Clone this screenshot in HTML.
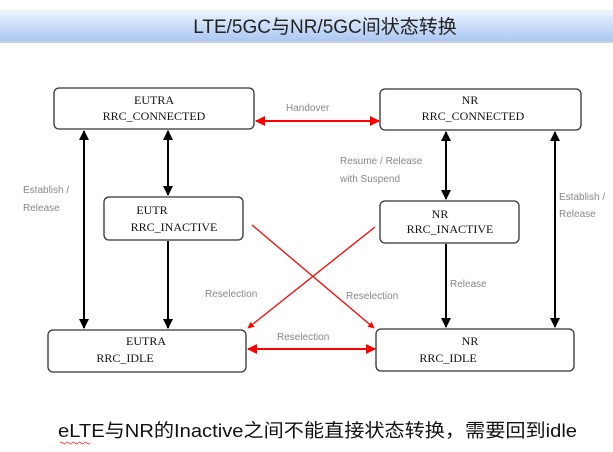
<!DOCTYPE html>
<html><head><meta charset="utf-8"><style>
html,body{margin:0;padding:0;background:#fff;width:613px;height:452px;overflow:hidden}
svg text{font-family:"Liberation Sans","Noto Sans CJK SC",sans-serif}
.m{font-family:"Liberation Serif","Noto Serif CJK SC",serif;font-size:12px;fill:#111}
.l{font-size:10px;fill:#888}
</style></head><body>
<svg width="613" height="452" viewBox="0 0 613 452" xmlns="http://www.w3.org/2000/svg">
<defs>
<linearGradient id="g" x1="0" y1="0" x2="0" y2="1">
<stop offset="0" stop-color="#eef4fd"/><stop offset="1" stop-color="#a9c6f2"/></linearGradient>
<marker id="ak" viewBox="0 0 10 10" refX="9" refY="5" markerWidth="5" markerHeight="5" orient="auto-start-reverse"><path d="M0,0L10,5L0,10z" fill="#000"/></marker>
<marker id="ar" viewBox="0 0 10 10" refX="9" refY="5" markerWidth="5" markerHeight="5" orient="auto-start-reverse"><path d="M0,0L10,5L0,10z" fill="#f00"/></marker>
</defs>
<rect x="0" y="10" width="613" height="32" fill="url(#g)"/>
<rect x="0" y="41" width="613" height="2" fill="#c8d0dc"/>
<text x="325" y="33" font-size="19" text-anchor="middle" fill="#222">LTE/5GC与NR/5GC间状态转换</text>
<g fill="#fff" stroke="#333" stroke-width="1.3">
<rect x="54" y="88" width="200" height="41" rx="5"/>
<rect x="380" y="89" width="201" height="41" rx="5"/>
<rect x="104" y="197" width="139" height="43" rx="5"/>
<rect x="380" y="201" width="139" height="42" rx="5"/>
<rect x="48" y="330" width="198" height="42" rx="5"/>
<rect x="376" y="329" width="198" height="42" rx="5"/>
</g>
<g text-anchor="middle" class="m">
<text class="m" x="154" y="104">EUTRA</text><text class="m" x="154" y="120">RRC_CONNECTED</text>
<text class="m" x="470" y="104">NR</text><text class="m" x="473" y="120">RRC_CONNECTED</text>
<text class="m" x="152" y="214">EUTR</text><text class="m" x="174" y="231">RRC_INACTIVE</text>
<text class="m" x="440" y="218">NR</text><text class="m" x="450" y="233">RRC_INACTIVE</text>
<text class="m" x="146" y="345">EUTRA</text><text class="m" x="125" y="362">RRC_IDLE</text>
<text class="m" x="470" y="345">NR</text><text class="m" x="448" y="362">RRC_IDLE</text>
</g>
<g stroke="#000" stroke-width="2" fill="none">
<line x1="84" y1="131" x2="84" y2="328" marker-start="url(#ak)" marker-end="url(#ak)"/>
<line x1="168" y1="131" x2="168" y2="195" marker-start="url(#ak)" marker-end="url(#ak)"/>
<line x1="168" y1="241" x2="168" y2="328" marker-end="url(#ak)"/>
<line x1="446" y1="132" x2="446" y2="199" marker-start="url(#ak)" marker-end="url(#ak)"/>
<line x1="446" y1="244" x2="446" y2="327" marker-end="url(#ak)"/>
<line x1="555" y1="132" x2="555" y2="327" marker-start="url(#ak)" marker-end="url(#ak)"/>
</g>
<g stroke="#f00" stroke-width="2" fill="none">
<line x1="256" y1="121" x2="379" y2="121" marker-start="url(#ar)" marker-end="url(#ar)"/>
<line x1="248" y1="349" x2="375" y2="349" marker-start="url(#ar)" marker-end="url(#ar)"/>
</g>
<g stroke="#f00" stroke-width="1.3" fill="none">
<line x1="252" y1="225" x2="374" y2="328" marker-end="url(#ar)"/>
<line x1="375" y1="227" x2="248" y2="328" marker-end="url(#ar)"/>
</g>
<g class="l">
<text class="l" x="286" y="111">Handover</text>
<text class="l" x="340" y="164">Resume / Release</text>
<text class="l" x="340" y="182">with Suspend</text>
<text class="l" x="23" y="193">Establish /</text>
<text class="l" x="23" y="211">Release</text>
<text class="l" x="559" y="200">Establish /</text>
<text class="l" x="559" y="217">Release</text>
<text class="l" x="205" y="297">Reselection</text>
<text class="l" x="346" y="299">Reselection</text>
<text class="l" x="450" y="287">Release</text>
<text class="l" x="277" y="340">Reselection</text>
</g>
<text x="58" y="437" font-size="18.5" fill="#111" textLength="519" lengthAdjust="spacingAndGlyphs">eLTE与NR的Inactive之间不能直接状态转换，需要回到idle</text>
<path d="M60,443 q1.5,-2 3,0 t3,0 t3,0 t3,0 t3,0 t3,0 t3,0 t3,0 t3,0 t3,0" stroke="#e33" stroke-width="0.8" fill="none"/>
</svg>
</body></html>
